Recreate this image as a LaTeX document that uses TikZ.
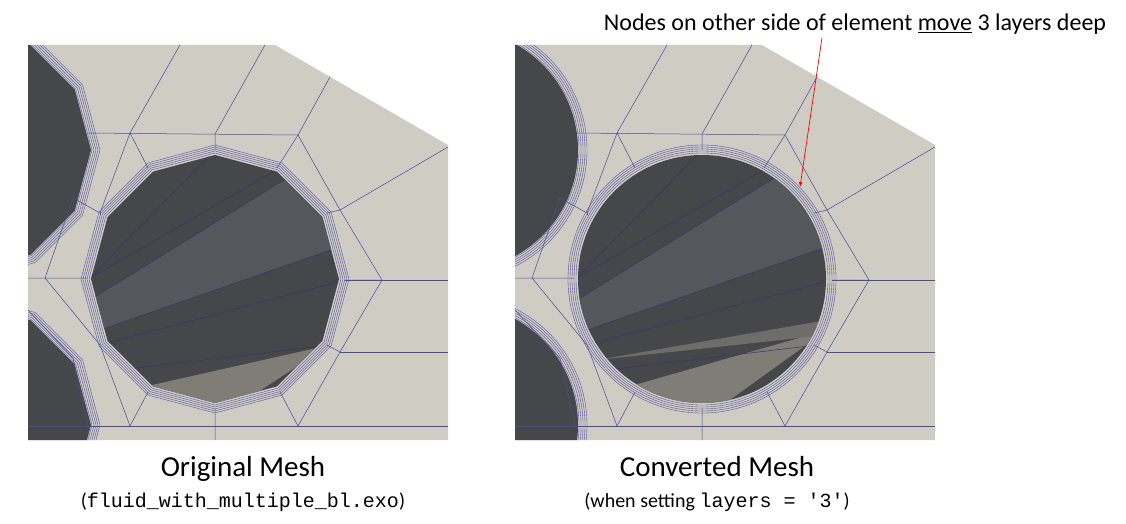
\documentclass[tikz,border=0pt]{standalone}
\usepackage{fontspec}
\setmainfont{Carlito}
\setmonofont{Liberation Mono}
\usetikzlibrary{positioning,calc}
\definecolor{meshgray}{HTML}{CFCCC4}
\definecolor{holedark}{HTML}{46474B}
\definecolor{holemid}{HTML}{55575C}
\definecolor{holelight}{HTML}{7F7D76}
\definecolor{meshblue}{HTML}{4A4A9E}
\tikzset{
	edge/.style    = {draw=meshblue, line width=0.5pt},
	ray/.style     = {draw=meshblue!70!black, line width=0.5pt},
	ring/.style    = {draw=meshblue, line width=0.35pt},
	caption/.style = {font=\fontsize{29}{34}\selectfont, anchor=base},
	subcap/.style  = {font=\fontsize{20}{24}\selectfont, anchor=base}
}
% panel outline and mesh edges, drawn in panel coordinates
\newcommand{\panelclip}{(28,45) -- (275,45) -- (448,145) -- (448,440) -- (28,440) -- cycle}
\newcommand{\meshedges}{%
	\draw[edge] (88,133) -- (298,135);
	\draw[edge] (130,133) -- (180,45) (215,134) -- (265,45) (298,135) -- (330,77);
	\draw[edge] (298,135) -- (340,210) -- (448,147);
	\draw[edge] (340,210) -- (382,280) -- (340,352) -- (298,426);
	\draw[edge] (345,280) -- (448,280) (340,352) -- (448,352);
	\draw[edge] (28,426) -- (448,426);
	\draw[edge] (130,133) -- (100,213) (73,198) -- (100,213);
	\draw[edge] (28,278) -- (87,278) (45,278) -- (73,198) (45,278) -- (100,345);
	\draw[edge] (100,345) -- (130,426) (28,310) -- (73,358) (73,358) -- (88,426);
	\draw[edge] (215,408) -- (215,440) (148,392) -- (130,426) (280,392) -- (298,426);
	\draw[edge] (130,133) -- (148,168) (215,134) -- (215,150) (298,135) -- (277,168);
	\draw[edge] (340,210) -- (327,213) (382,280) -- (345,280) (340,352) -- (327,345);
	\draw[edge] (100,213) -- (100,215);
}

\begin{document}
\begin{tikzpicture}[x=1pt, y=-1pt, >=latex]
	\useasboundingbox (0,0) rectangle (1126,524);
	
	% Original mesh (left panel)
	\begin{scope}
		\clip \panelclip;
		\fill[meshgray] (0,0) rectangle (460,460);
		% neighbour holes
		\foreach \cy in {150,425}{
			\foreach \r in {130,128,...,122}
				\draw[ring] (-30,\cy) ++(0:\r) \foreach \a in {30,60,...,330}{ -- ($(-30,\cy)+(\a:\r)$)} -- cycle;
			\fill[holedark] (-30,\cy) ++(0:121) \foreach \a in {30,60,...,330}{ -- ($(-30,\cy)+(\a:121)$)} -- cycle;
		}
		% main hole
		\foreach \r in {134,132,...,126}
			\draw[ring] (215,279) ++(0:\r) \foreach \a in {30,60,...,330}{ -- ($(215,279)+(\a:\r)$)} -- cycle;
		\begin{scope}
			\clip (215,279) ++(0:124) \foreach \a in {30,60,...,330}{ -- ($(215,279)+(\a:124)$)} -- cycle;
			\fill[holedark] (80,140) rectangle (350,420);
			\fill[holemid] (90,300) -- (300,170) -- (345,245) -- (100,330) -- cycle;
			\fill[holelight] (130,390) -- (330,345) -- (215,420) -- cycle;
			\draw[ray] (90,278) -- (215,150) (90,278) -- (280,168) (90,300) -- (300,170)
				(100,330) -- (345,245) (100,345) -- (345,280) (120,370) -- (330,345);
		\end{scope}
		\meshedges
	\end{scope}
	
	% Converted mesh (right panel)
	\begin{scope}[shift={(487,0)}]
		\clip \panelclip;
		\fill[meshgray] (0,0) rectangle (460,460);
		\foreach \cy in {150,425}{
			\foreach \r in {130,128,...,122}
				\draw[ring] (-30,\cy) circle[radius=\r];
			\fill[holedark] (-30,\cy) circle[radius=121];
		}
		\foreach \r in {134,132,...,126}
			\draw[ring] (215,279) circle[radius=\r];
		\begin{scope}
			\clip (215,279) circle[radius=124];
			\fill[holedark] (80,140) rectangle (350,420);
			\fill[holemid] (90,300) -- (300,170) -- (345,245) -- (100,330) -- cycle;
			\fill[holelight] (130,390) -- (340,330) -- (215,420) -- cycle;
			\fill[holelight!70!holedark] (110,360) -- (340,320) -- (340,335) -- cycle;
			\draw[ray] (90,278) -- (215,150) (90,278) -- (280,168) (90,300) -- (300,170)
				(100,330) -- (345,245) (100,345) -- (345,280) (120,370) -- (330,345);
		\end{scope}
		\meshedges
	\end{scope}
	
	% captions
	\node[caption] (origcap) at (243,476) {Original Mesh};
	\node[subcap] (origsub) at (243,507) {(\texttt{fluid\_with\_multiple\_bl.exo})};
	\node[caption] (convcap) at (717,476) {Converted Mesh};
	\node[subcap] (convsub) at (717,507) {(when setting \texttt{layers = '3'})};
	
	% annotation
	\node[font=\fontsize{24}{28}\selectfont] (note) at (855,24) {Nodes on other side of element \underline{move} 3 layers deep};
	\coordinate (target) at (800,187);
	\draw[->, red, line width=0.7pt] (note.south) ++(-33,0) -- (target);
\end{tikzpicture}
\end{document}
